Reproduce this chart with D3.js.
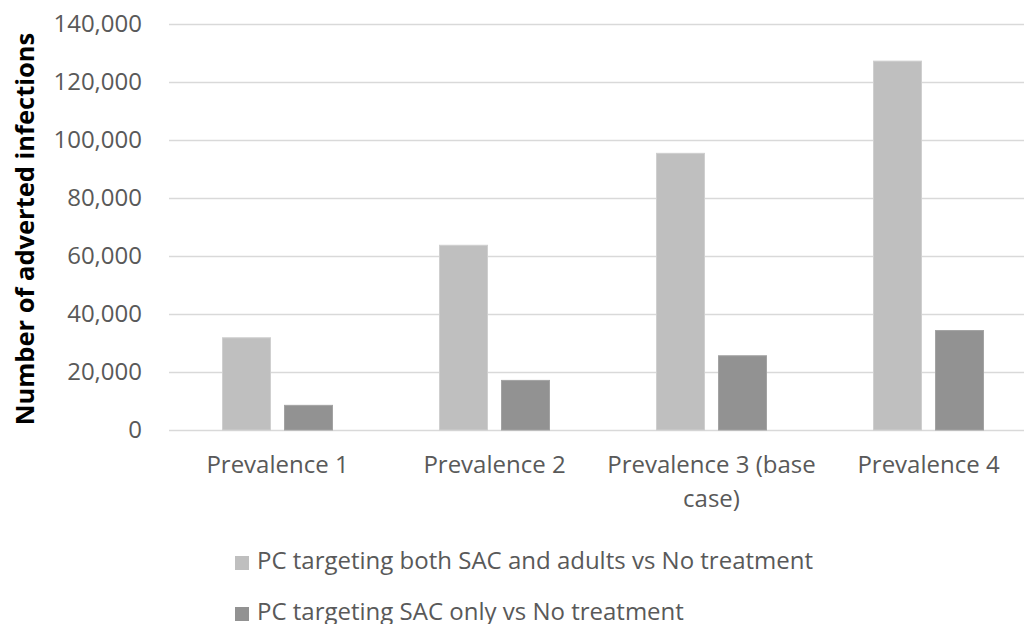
<!DOCTYPE html>
<html>
<head>
<meta charset="utf-8">
<script src="https://cdn.jsdelivr.net/npm/d3@7"></script>
<style>
  html, body { margin: 0; padding: 0; background: #fff; }
  svg { display: block; }
  text { font-family: "Open Sans", "Noto Sans", sans-serif; }
</style>
</head>
<body>
<svg id="chart" width="1024" height="624"></svg>
<script>
// Averted infections by prevalence scenario
const categories = ["Prevalence 1", "Prevalence 2", "Prevalence 3 (base case)", "Prevalence 4"];
const seriesNames = [
  "PC targeting both SAC and adults vs No treatment",
  "PC targeting SAC only vs No treatment"
];
const bothSacAdults = [31800, 63700, 95400, 127200];
const sacOnly = [8500, 17100, 25600, 34300];
const yTicks = [0, 20000, 40000, 60000, 80000, 100000, 120000, 140000];

const colors = ["#bfbfbf", "#929292"];
const strokes = ["#cfcfcf", "#a3a3a3"];
const textColor = "#595959";

const svg = d3.select("#chart");
const plot = { left: 169, top: 24, bottom: 430, step: 217 };
const plotRight = plot.left + plot.step * categories.length;

const y = d3.scaleLinear().domain([0, 140000]).range([plot.bottom, plot.top]);
const x0 = d3.scaleBand().domain(categories).range([plot.left, plotRight]).padding(0);
const groupPad = (plot.step - 110) / 2;
const x1 = d3.scaleBand().domain(seriesNames).range([groupPad, plot.step - groupPad])
  .paddingInner(0.226).paddingOuter(0);

// horizontal gridlines
const yAxis = d3.axisLeft(y).tickValues(yTicks).tickSize(-(plotRight - plot.left))
  .tickPadding(27).tickFormat(d3.format(","));
const gy = svg.append("g").attr("transform", `translate(${plot.left},0)`).call(yAxis);
gy.select(".domain").remove();
gy.selectAll(".tick line").attr("stroke", "#d9d9d9").attr("stroke-width", 1.5);
gy.selectAll(".tick text").attr("fill", textColor).style("font-size", "24px")
  .style("font-family", "'Open Sans', sans-serif");

// bars
const series = [bothSacAdults, sacOnly];
const groups = svg.append("g").selectAll("g").data(categories).join("g")
  .attr("transform", d => `translate(${x0(d)},0)`);
groups.selectAll("rect")
  .data((c, ci) => seriesNames.map((s, si) => ({ s, si, v: series[si][ci] })))
  .join("rect")
  .attr("x", d => x1(d.s))
  .attr("width", x1.bandwidth())
  .attr("y", d => y(d.v))
  .attr("height", d => y(0) - y(d.v))
  .attr("fill", d => colors[d.si])
  .attr("stroke", d => strokes[d.si])
  .attr("stroke-width", 1);

// category labels, wrapped to the band width
const xAxis = d3.axisBottom(x0).tickSize(0).tickPadding(0);
const gx = svg.append("g").attr("transform", `translate(0,${plot.bottom})`).call(xAxis);
gx.select(".domain").remove();
gx.selectAll(".tick text").attr("fill", textColor).style("font-size", "24px")
  .style("font-family", "'Open Sans', sans-serif")
  .each(function(d) {
    const t = d3.select(this);
    const words = d.split(" ");
    t.text(null);
    let lines = [], cur = [];
    const probe = t.append("tspan");
    words.forEach(w => {
      const test = cur.concat(w).join(" ");
      probe.text(test);
      if (probe.node().getComputedTextLength() > 212 && cur.length) {
        lines.push(cur.join(" "));
        cur = [w];
      } else cur.push(w);
    });
    lines.push(cur.join(" "));
    probe.remove();
    t.attr("y", 0).attr("dy", null);
    lines.forEach((ln, i) => {
      t.append("tspan").attr("x", 0).attr("y", 43 + i * 34).text(ln);
    });
  });

// y-axis title
svg.append("text")
  .attr("transform", `translate(34,${(plot.top + plot.bottom) / 2 + 2}) rotate(-90)`)
  .attr("text-anchor", "middle")
  .attr("fill", "#000")
  .style("font-size", "25.5px")
  .style("font-weight", "bold")
  .text("Number of adverted infections");

// legend
const legend = svg.append("g").selectAll("g").data(seriesNames).join("g")
  .attr("transform", (d, i) => `translate(235,${569 + i * 51})`);
legend.append("rect").attr("x", 0).attr("y", -13).attr("width", 14).attr("height", 14)
  .attr("fill", (d, i) => colors[i]);
legend.append("text").attr("x", 22).attr("y", 0)
  .attr("fill", textColor).style("font-size", "24px").text(d => d);
</script>
</body>
</html>
